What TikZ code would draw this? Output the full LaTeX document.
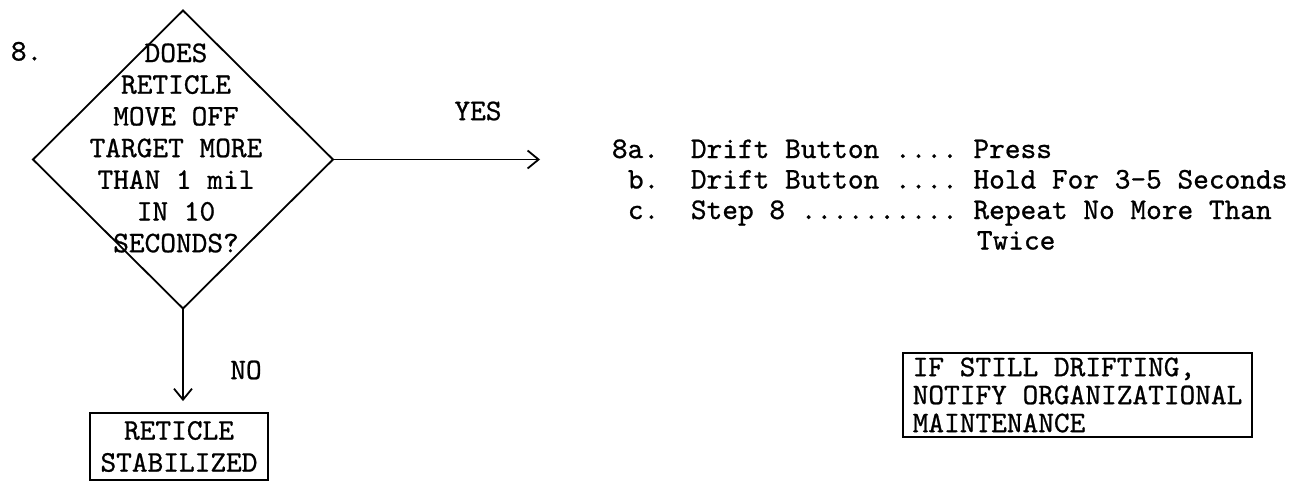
\documentclass[tikz,border=0pt]{standalone}
\usepackage{fontspec}
\setmonofont{lmmono10-regular.otf}[FakeBold=0.8]
\usetikzlibrary{positioning, arrows.meta, shapes.geometric}

\begin{document}
\begin{tikzpicture}[
  x=0.5pt, y=-0.5pt,
  font=\ttfamily\fontsize{14.95pt}{15.85pt}\selectfont\frenchspacing,
  >={Straight Barb[length=5.5pt,width=9pt]},
  line width=0.9pt,
  %% Node styles
  decision/.style={
    draw, shape=diamond, inner sep=0pt, outer sep=0pt,
    minimum width=150pt, minimum height=149pt
  },
  question/.style={align=center, inner sep=0pt},
  tag/.style={inner sep=0pt},
  stepline/.style={anchor=base west, inner sep=0pt},
  outcome/.style={
    draw, align=center, inner sep=0pt,
    minimum width=89pt, minimum height=33.5pt,
    font=\ttfamily\fontsize{14.95pt}{16pt}\selectfont
  },
  notice/.style={
    draw, align=left, inner xsep=4.5pt, inner ysep=0pt,
    minimum width=174.5pt, minimum height=42pt,
    font=\ttfamily\fontsize{14.95pt}{14pt}\selectfont
  },
]
\useasboundingbox (0,0) rectangle (1310,481);

%% ── DECISION ──────────────────────────────────────────────────────────────
\node[tag, anchor=base west] (num) at (10,60.5) {8.};
\node[decision] (q) at (183,159.5) {};
\node[question] (qtext) at (176,148) {DOES\\RETICLE\\MOVE OFF\\TARGET MORE\\THAN 1 mil\\IN 10\\SECONDS?};

%% ── YES branch ────────────────────────────────────────────────────────────
\coordinate (yesend) at (540,162);
\draw[->] (q.east) -- (q.east -| yesend);
\node[tag] (yes) at (478,111) {YES};

\node[stepline] (s8a) at (611,158)   {8a.};
\node[stepline] (s8b) at (627,188.5) {b.};
\node[stepline] (s8c) at (627,219)   {c.};
\node[stepline] (t8a) at (690,158)   {Drift Button .... Press};
\node[stepline] (t8b) at (690,188.5) {Drift Button .... Hold For 3-5 Seconds};
\node[stepline] (t8c) at (690,219)   {Step 8 .......... Repeat No More Than};
\node[stepline] (t8d) at (976,249.5) {Twice};

\node[notice] (notify) at (1077.5,395) {IF STILL DRIFTING,\\NOTIFY ORGANIZATIONAL\\MAINTENANCE};

%% ── NO branch ─────────────────────────────────────────────────────────────
\node[outcome] (stable) at (179,446.5) {RETICLE\\STABILIZED};
\draw[->, shorten >=5.5pt] (q.south) -- (q.south |- stable.north);
\node[tag] (no) at (246,370) {NO};

\end{tikzpicture}
\end{document}
